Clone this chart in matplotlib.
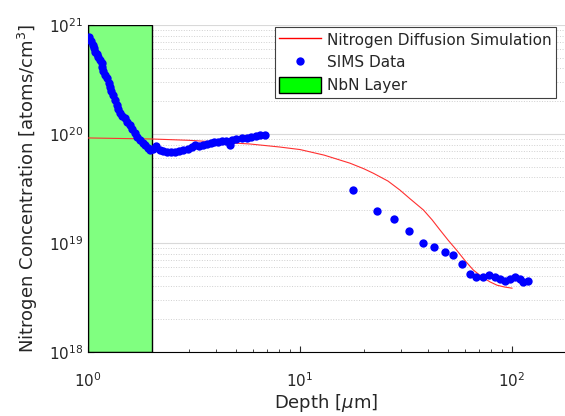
import numpy as np
import matplotlib
matplotlib.use("Agg")
import matplotlib.pyplot as plt
from matplotlib.lines import Line2D
from matplotlib.patches import Patch

# simulation curve (depth um, N conc atoms/cm3)
sim_depth = [1, 2, 3, 4, 5.8, 8, 10, 13, 17.2, 20, 22.2, 26, 29.6, 33, 38.2,
             42, 45.7, 50, 54.8, 60, 65.7, 72, 78.7, 85, 92, 100]
sim_conc = [9.2e19, 9.0e19, 8.75e19, 8.45e19, 8.1e19, 7.6e19, 7.2e19, 6.4e19,
            5.4e19, 4.8e19, 4.36e19, 3.7e19, 3.06e19, 2.55e19, 2.01e19,
            1.63e19, 1.32e19, 1.06e19, 8.6e18, 6.9e18, 5.65e18, 4.9e18,
            4.4e18, 4.1e18, 3.95e18, 3.85e18]

# SIMS points
sims_depth = [1.014, 1.03, 1.052, 1.065, 1.079, 1.1, 1.118, 1.14, 1.16, 1.17,
              1.181, 1.2, 1.225, 1.25, 1.27, 1.29, 1.316, 1.34, 1.366, 1.39,
              1.416, 1.45, 1.495, 1.53, 1.578, 1.62, 1.666, 1.71, 1.759, 1.81,
              1.857, 1.91, 1.961, 2.03, 2.1, 2.18, 2.27, 2.37, 2.47, 2.58,
              2.7, 2.82, 2.95, 3.08, 3.2, 3.35, 3.5, 3.65, 3.8, 3.95, 4.1,
              4.3, 4.5, 4.65, 4.8, 5.0, 5.3, 5.6, 5.9, 6.2, 6.5, 6.84,
              17.8, 23.0, 27.9, 32.8, 38.0, 43.0, 48.1, 52.9, 58.1, 63.2,
              67.6, 73.2, 77.9, 83.2, 87.8, 93.0, 97.9, 103, 109, 113, 119.4]
sims_conc = [7.8e20, 7.1e20, 6.56e20, 6.1e20, 5.7e20, 5.4e20, 5.1e20, 4.8e20,
             4.45e20, 4.1e20, 3.75e20, 3.5e20, 3.25e20, 2.95e20, 2.72e20,
             2.5e20, 2.28e20, 2.05e20, 1.85e20, 1.7e20, 1.56e20, 1.47e20,
             1.39e20, 1.3e20, 1.21e20, 1.11e20, 1.02e20, 9.4e19, 8.8e19,
             8.3e19, 7.9e19, 7.5e19, 7.15e19, 7.3e19, 7.7e19, 7.2e19, 7.0e19,
             6.9e19, 6.85e19, 6.9e19, 7.0e19, 7.15e19, 7.3e19, 7.55e19,
             7.9e19, 7.8e19, 8.0e19, 8.15e19, 8.3e19, 8.4e19, 8.5e19, 8.6e19,
             8.7e19, 8.0e19, 8.9e19, 9.0e19, 9.1e19, 9.25e19, 9.35e19, 9.5e19,
             9.7e19, 9.85e19,
             3.06e19, 1.98e19, 1.67e19, 1.29e19, 9.94e18, 9.19e18, 8.27e18,
             7.76e18, 6.41e18, 5.2e18, 4.91e18, 4.91e18, 5.09e18, 4.85e18,
             4.64e18, 4.51e18, 4.71e18, 4.91e18, 4.64e18, 4.42e18, 4.48e18]

nbn_range = [1, 2]

txt = '#262626'
fig = plt.figure(figsize=(5.65, 4.16), dpi=100)
ax = fig.add_axes([88/565, 1-352/416, 1-88/565, (352-25)/416])
ax.set_xscale('log')
ax.set_yscale('log')
ax.set_xlim(1, 10**((565-88)/212))
ax.set_ylim(1e18, 1e21)

ax.axvspan(nbn_range[0], nbn_range[1], facecolor='#80ff80', edgecolor='black',
           linewidth=1, zorder=2)
ax.plot(sim_depth, sim_conc, color='#ff3030', lw=0.8, zorder=3)
ax.plot(sims_depth, sims_conc, 'o', color='blue', ms=6, mec='none', zorder=4)

ax.yaxis.grid(True, which='major', color='#d9d9d9', lw=0.8, zorder=0)
ax.yaxis.grid(True, which='minor', color='#d0d0d0', lw=0.7, ls=':', zorder=0)
ax.set_axisbelow(True)

for s in ['top', 'right']:
    ax.spines[s].set_visible(False)
ax.tick_params(which='both', direction='in', colors=txt, labelsize=11)
ax.tick_params(which='major', length=4)
ax.tick_params(which='minor', length=2.5)
ax.tick_params(axis='x', pad=14)

ax.set_xlabel(r'Depth [$\mu$m]', fontsize=13, color=txt, labelpad=1)
ax.set_ylabel(r'Nitrogen Concentration [atoms/cm$^3$]', fontsize=13,
              color=txt, labelpad=6)

handles = [Line2D([], [], color='red', lw=1),
           Line2D([], [], ls='none', marker='o', color='blue', ms=6, mec='none'),
           Patch(facecolor='#00ff00', edgecolor='black')]
labels = ['Nitrogen Diffusion Simulation', 'SIMS Data', 'NbN Layer']
leg = ax.legend(handles, labels, loc='upper right', fontsize=11,
                bbox_to_anchor=(556/565, 1-27/416), bbox_transform=fig.transFigure,
                borderaxespad=0, fancybox=False, framealpha=1, edgecolor='#404040',
                handlelength=2.7, handleheight=1.2, labelspacing=0.45,
                borderpad=0.3, handletextpad=0.4)
leg.get_frame().set_linewidth(0.8)
for t in leg.get_texts():
    t.set_color(txt)

fig.savefig('out.png', dpi=100)
